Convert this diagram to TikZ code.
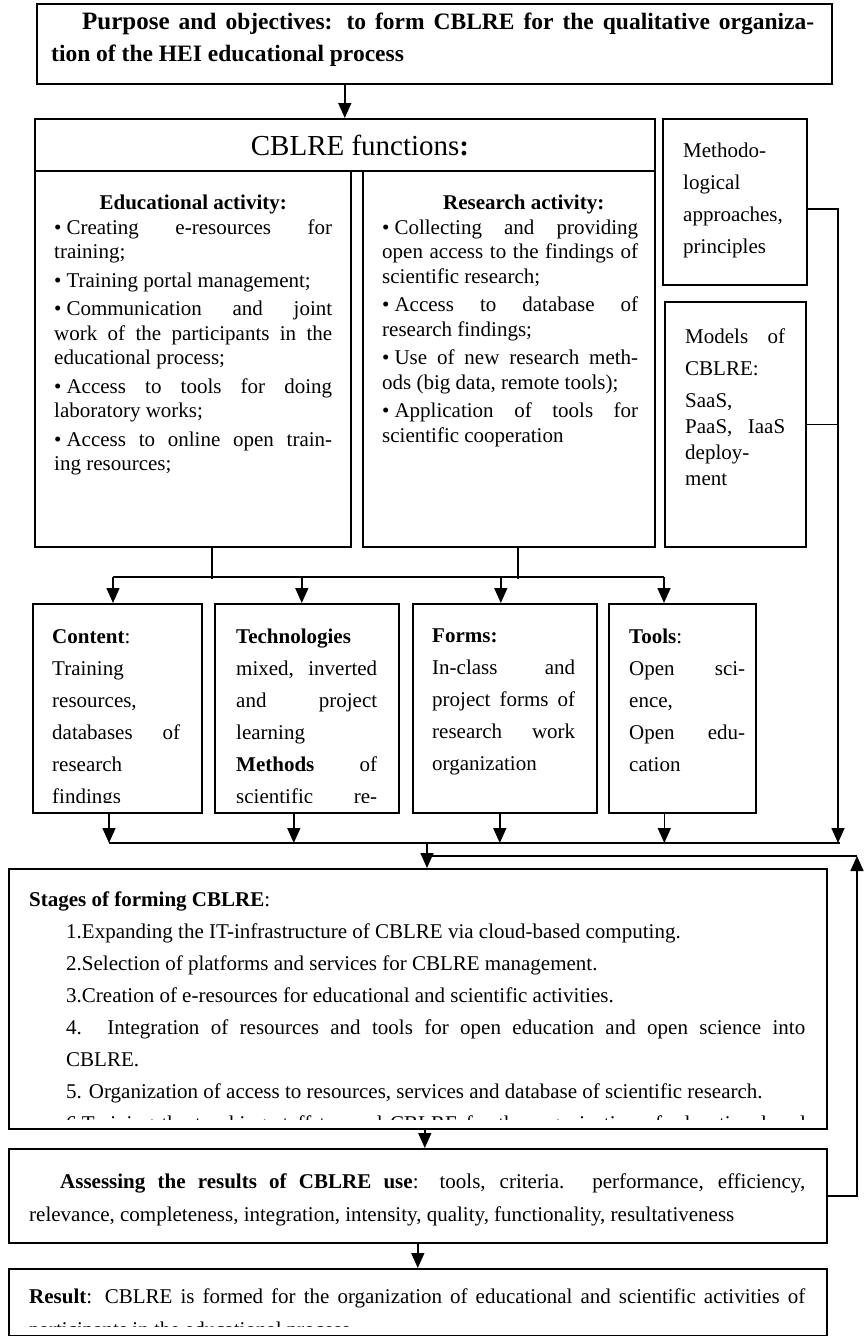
\documentclass[tikz,border=0pt]{standalone}
\usepackage{fontspec}
\setmainfont{Liberation Serif}
\usetikzlibrary{arrows.meta}
\tikzset{>={Triangle[width=13pt,length=15pt]}}
\newcommand{\blt}{\textbullet\hspace{5pt}}
\tikzset{
  box/.style={draw, line width=1.6pt, inner sep=0pt, anchor=north west},
  txt/.style={inner sep=0pt, anchor=north west, align=justify, font=\fontsize{21}{32}\selectfont,
    execute at begin node={\parindent=0pt\tolerance=10000\hyphenpenalty=10000\exhyphenpenalty=10000}},
  link/.style={line width=1.6pt},
}

\begin{document}
\begin{tikzpicture}[x=1pt, y=-1pt]
\useasboundingbox (0,0) rectangle (864,1336);

\node[box, minimum width=795pt, minimum height=80pt] (top) at (36,3) {};
\node[box, minimum width=620pt, minimum height=52pt] (funcs) at (34,118) {};
\node[box, minimum width=316pt, minimum height=376pt] (edu) at (34,170) {};
\node[box, minimum width=292pt, minimum height=376pt] (res) at (362,170) {};
\node[box, minimum width=144pt, minimum height=166pt] (meth) at (662,118) {};
\node[box, minimum width=141pt, minimum height=245pt] (models) at (664,301) {};
\node[box, minimum width=169pt, minimum height=209pt] (content) at (32,603) {};
\node[box, minimum width=184pt, minimum height=209pt] (tech) at (214,603) {};
\node[box, minimum width=184pt, minimum height=209pt] (forms) at (412,603) {};
\node[box, minimum width=147pt, minimum height=209pt] (tools) at (608,603) {};
\node[box, minimum width=818pt, minimum height=260pt] (stages) at (8,868) {};
\node[box, minimum width=818pt, minimum height=94pt] (assess) at (8,1148) {};
\node[box, minimum width=818pt, minimum height=67pt] (result) at (8,1268) {};

\begin{scope}
\clip (36,3) rectangle (831,66);
\node[txt, text width=763pt, font=\bfseries\fontsize{23.5}{32}\selectfont] (toptext) at (51,13)
  {\hspace*{31pt}{\fontsize{25}{32}\selectfont Purpose} and objectives: to form CBLRE for the qualitative organiza-\linebreak tion of the HEI educational process\par};
\end{scope}

\node[anchor=base, inner sep=0pt, font=\fontsize{29}{34}\selectfont] (funcstext) at (360,155) {CBLRE functions\textbf{:}};

\node[txt, text width=278pt, font=\fontsize{21}{24.5}\selectfont] (edutext) at (54,195)
  {{\centering\textbf{Educational activity:}\par}
  \blt Creating e-resources for\linebreak training;\par\vspace{4pt}
  \blt Training portal management;\par\vspace{4pt}
  \blt Communication and joint\linebreak work of the participants in the\linebreak educational process;\par\vspace{4pt}
  \blt Access to tools for doing\linebreak laboratory works;\par\vspace{4pt}
  \blt Access to online open train-\linebreak ing resources;\par};

\node[txt, text width=256pt, font=\fontsize{21}{24.5}\selectfont] (restext) at (382,195)
  {{\centering\hspace*{27pt}\textbf{Research activity:}\par}
  \blt Collecting and providing\linebreak open access to the findings of\linebreak scientific research;\par\vspace{4pt}
  \blt Access to database of\linebreak research findings;\par\vspace{4pt}
  \blt Use of new research meth-\linebreak ods (big data, remote tools);\par\vspace{4pt}
  \blt Application of tools for\linebreak scientific cooperation\par};

\node[txt, text width=103pt] (methtext) at (683,143)
  {Methodo-\linebreak logical\linebreak approaches,\linebreak principles\par};

\node[txt, text width=100pt] (modeltext) at (685,329)
  {Models of\linebreak CBLRE:\linebreak SaaS,\par
  {\fontsize{21}{26}\selectfont PaaS, IaaS\linebreak deploy-\linebreak ment\par}};

\begin{scope}
\clip (32,603) rectangle (398,802);
\node[txt, text width=128pt] (contenttext) at (52,629)
  {\textbf{Content}:\par Training\linebreak resources,\linebreak databases of\linebreak research\linebreak findings\par};
\node[txt, text width=141pt] (techtext) at (236,629)
  {\textbf{Technologies}\par mixed, inverted\linebreak and project\linebreak learning\par
  {\parfillskip=0pt \textbf{Methods} of\linebreak scientific re-\par}};
\end{scope}

\node[txt, text width=143pt] (formstext) at (432,629)
  {\textbf{Forms:}\par In-class and\linebreak project forms of\linebreak research work\linebreak organization\par};

\node[txt, text width=116pt] (toolstext) at (629,629)
  {\textbf{Tools}:\par Open sci-\linebreak ence,\linebreak Open edu-\linebreak cation\par};

\begin{scope}
\clip (8,868) rectangle (826,1119);
\node[txt, text width=776pt] (stagestext) at (29,892)
  {\textbf{Stages of forming CBLRE}:\par
  {\leftskip=37pt
  1.Expanding the IT-infrastructure of CBLRE via cloud-based computing.\par
  2.Selection of platforms and services for CBLRE management.\par
  3.Creation of e-resources for educational and scientific activities.\par
  4. Integration of resources and tools for open education and open science into\linebreak CBLRE.\par
  5. Organization of access to resources, services and database of scientific research.\par
  {\parfillskip=0pt 6.Training the teaching staff to used CBLRE for the organization of educational and\par}}};
\end{scope}

\node[txt, text width=776pt, font=\fontsize{21}{33}\selectfont] (assesstext) at (29,1173)
  {\hspace*{31pt}\textbf{Assessing the results of CBLRE use}: tools, criteria. performance, efficiency,\linebreak relevance, completeness, integration, intensity, quality, functionality, resultativeness\par};

\begin{scope}
\clip (8,1268) rectangle (826,1326);
\node[txt, text width=776pt, font=\fontsize{21}{33}\selectfont] (resulttext) at (29,1288)
  {\textbf{Result}: CBLRE is formed for the organization of educational and scientific activities of\linebreak participants in the educational process\par};
\end{scope}

\draw[link,->] (funcs.north |- top.south) -- (funcs.north);

\draw[link] ([xshift=19pt]edu.south) -- ++(0,31);
\draw[link] ([xshift=9pt]res.south) -- ++(0,31);
\coordinate (busL) at (113,577);
\coordinate (busR) at (664,577);
\draw[link] (busL) -- (busR);
\draw[link,->] (busL) -- (busL |- content.north);
\draw[link,->] ([xshift=-5pt]tech.north |- busL) -- ([xshift=-5pt]tech.north);
\draw[link,->] ([xshift=-4pt]forms.north |- busL) -- ([xshift=-4pt]forms.north);
\draw[link,->] (busR) -- (busR |- tools.north);

\coordinate (bus2L) at (109,843);
\coordinate (bus2R) at (840,843);
\coordinate (side) at (838,843);
\draw[link] (bus2L) -- (bus2R);
\draw[link,->] (content.south -| bus2L) -- (bus2L);
\draw[link,->] ([xshift=-13pt]tech.south) -- ([xshift=-13pt]tech.south |- bus2L);
\draw[link,->] ([xshift=-5pt]forms.south) -- ([xshift=-5pt]forms.south |- bus2L);
\draw[link,->] ([xshift=-18pt]tools.south) -- ([xshift=-18pt]tools.south |- bus2L);
\draw[link,->] ([yshift=-7pt]meth.east) -| (side);
\draw[link] (models.east) -- (models.east -| side);

\coordinate (join) at (427,843);
\coordinate (loop) at (857,856);
\draw[link,->] (join) -- (join |- stages.north);
\draw[link,->] (assess.east) -| (loop);
\draw[link] (loop) -- (loop -| join);

\draw[link,->] ([xshift=7pt]stages.south) -- ([xshift=7pt]assess.north);
\draw[link,->] (assess.south) -- (result.north);

\end{tikzpicture}
\end{document}
